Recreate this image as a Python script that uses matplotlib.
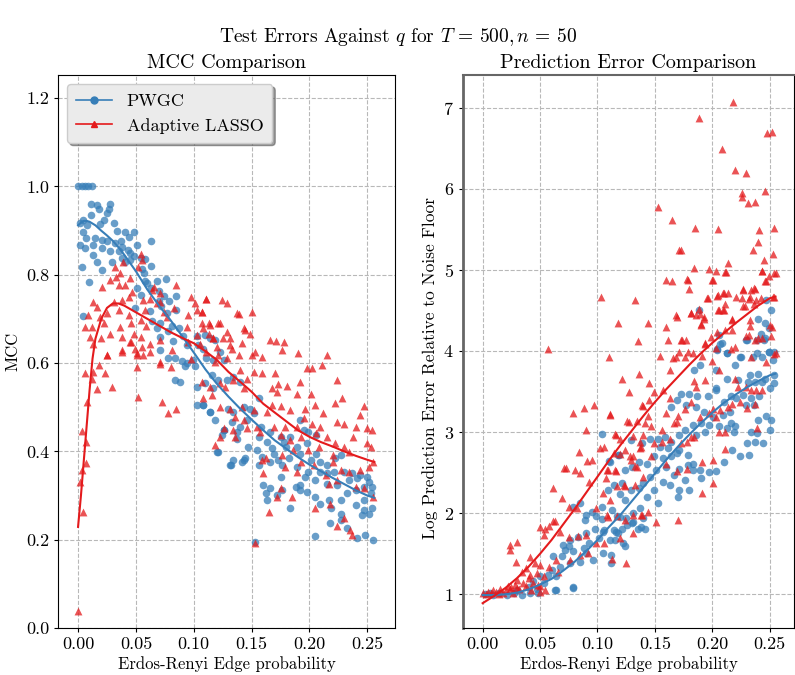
import numpy as np
import matplotlib
matplotlib.use('Agg')
import matplotlib.pyplot as plt
from matplotlib.lines import Line2D

plt.rcParams['font.family'] = 'serif'
plt.rcParams['font.serif'] = ['cmr10']
plt.rcParams['mathtext.fontset'] = 'cm'
plt.rcParams['axes.formatter.use_mathtext'] = True
plt.rcParams['axes.unicode_minus'] = False

BLUE = '#377eb8'
RED = '#e41a1c'

# ---- MCC panel: PWGC (q, mcc) ----
mcc_pwgc = [
    (0.000, 1.0), (0.003, 1.0), (0.006, 1.0), (0.009, 1.0), (0.012, 1.0),
    (0.011, 0.961), (0.016, 0.958), (0.018, 0.95), (0.028, 0.961), (0.027, 0.95), (0.025, 0.94),
    (0.011, 0.935), (0.0045, 0.925), (0.002, 0.917), (0.0075, 0.913), (0.022, 0.925), (0.019, 0.915),
    (0.031, 0.917), (0.0045, 0.898), (0.007, 0.883), (0.015, 0.883), (0.021, 0.879), (0.025, 0.876),
    (0.034, 0.90), (0.041, 0.897), (0.048, 0.897), (0.044, 0.886), (0.037, 0.877), (0.032, 0.871),
    (0.006, 0.861), (0.0015, 0.868), (0.013, 0.868), (0.021, 0.86), (0.028, 0.853), (0.038, 0.864),
    (0.035, 0.853), (0.043, 0.857), (0.045, 0.85), (0.048, 0.842), (0.051, 0.868), (0.063, 0.877),
    (0.013, 0.845), (0.016, 0.828), (0.029, 0.830), (0.038, 0.838), (0.041, 0.830), (0.045, 0.834),
    (0.054, 0.838), (0.058, 0.836), (0.063, 0.821), (0.003, 0.817), (0.021, 0.81), (0.055, 0.812),
    (0.057, 0.803), (0.058, 0.786), (0.0098, 0.784), (0.06, 0.782), (0.051, 0.77), (0.068, 0.786),
    (0.076, 0.791), (0.063, 0.77), (0.07, 0.763), (0.054, 0.755), (0.074, 0.751), (0.085, 0.753),
    (0.079, 0.74), (0.07, 0.74), (0.072, 0.729), (0.049, 0.725), (0.0046, 0.707), (0.062, 0.717),
    (0.077, 0.714), (0.085, 0.721), (0.064, 0.695), (0.071, 0.691), (0.081, 0.684), (0.068, 0.680),
    (0.078, 0.672), (0.087, 0.680), (0.091, 0.661), (0.103, 0.661), (0.071, 0.659), (0.082, 0.650),
    (0.094, 0.642), (0.104, 0.642), (0.108, 0.631), (0.071, 0.629), (0.078, 0.612), (0.084, 0.612),
    (0.090, 0.605), (0.099, 0.606), (0.092, 0.594), (0.101, 0.594), (0.084, 0.561), (0.088, 0.557),
    (0.094, 0.60), (0.103, 0.546), (0.103, 0.505), (0.108, 0.505), (0.114, 0.490), (0.120, 0.399),
    (0.126, 0.448), (0.131, 0.369), (0.142, 0.377), (0.144, 0.384),
    (0.110, 0.663), (0.114, 0.656), (0.118, 0.652), (0.123, 0.626), (0.111, 0.611), (0.117, 0.607),
    (0.126, 0.607), (0.116, 0.573), (0.121, 0.562), (0.129, 0.562), (0.134, 0.569), (0.140, 0.558),
    (0.110, 0.554), (0.117, 0.543), (0.108, 0.505), (0.114, 0.490), (0.118, 0.471), (0.130, 0.497),
    (0.134, 0.490), (0.143, 0.501), (0.149, 0.497), (0.156, 0.520), (0.152, 0.486), (0.146, 0.471),
    (0.133, 0.467), (0.140, 0.456), (0.137, 0.445), (0.126, 0.448), (0.124, 0.437), (0.137, 0.429),
    (0.158, 0.456), (0.166, 0.445), (0.175, 0.433), (0.156, 0.433), (0.163, 0.422), (0.147, 0.410),
    (0.155, 0.403), (0.168, 0.407), (0.121, 0.399), (0.159, 0.388), (0.169, 0.395), (0.178, 0.422),
    (0.183, 0.433), (0.192, 0.471), (0.195, 0.448), (0.199, 0.445), (0.206, 0.437), (0.180, 0.410),
    (0.189, 0.410), (0.198, 0.418), (0.173, 0.380), (0.182, 0.384), (0.192, 0.395), (0.201, 0.380),
    (0.206, 0.395), (0.209, 0.377), (0.215, 0.369), (0.222, 0.384), (0.227, 0.392), (0.134, 0.380),
    (0.143, 0.380), (0.132, 0.369), (0.156, 0.369), (0.166, 0.377), (0.176, 0.369), (0.189, 0.365),
    (0.199, 0.354), (0.209, 0.354), (0.215, 0.350), (0.221, 0.354), (0.230, 0.354), (0.237, 0.350),
    (0.244, 0.346), (0.250, 0.343), (0.251, 0.331), (0.241, 0.339), (0.234, 0.335), (0.224, 0.324),
    (0.215, 0.327), (0.205, 0.335), (0.196, 0.343), (0.192, 0.324), (0.188, 0.320), (0.175, 0.343),
    (0.160, 0.324), (0.166, 0.316), (0.162, 0.305), (0.163, 0.290), (0.172, 0.301), (0.176, 0.312),
    (0.183, 0.271), (0.192, 0.312), (0.198, 0.309), (0.205, 0.297), (0.209, 0.282), (0.217, 0.290),
    (0.219, 0.271), (0.227, 0.290), (0.232, 0.305), (0.240, 0.312), (0.247, 0.320), (0.254, 0.320),
    (0.253, 0.305), (0.247, 0.290), (0.240, 0.278), (0.247, 0.267), (0.254, 0.271), (0.251, 0.259),
    (0.245, 0.256), (0.227, 0.259), (0.227, 0.244), (0.218, 0.237), (0.232, 0.226), (0.241, 0.203),
    (0.248, 0.210), (0.255, 0.199), (0.205, 0.208), (0.153, 0.195),
]

# ---- MCC panel: Adaptive LASSO (q, mcc) ----
mcc_alasso = [
    (0.0, 0.039), (0.0032, 0.447), (0.0069, 0.422), (0.0032, 0.358), (0.002, 0.331), (0.007, 0.373),
    (0.0046, 0.263), (0.008, 0.512), (0.0118, 0.564), (0.016, 0.542), (0.013, 0.58), (0.018, 0.595),
    (0.0061, 0.578), (0.025, 0.618), (0.023, 0.578), (0.029, 0.546), (0.038, 0.629), (0.045, 0.648),
    (0.051, 0.618), (0.051, 0.592), (0.052, 0.524), (0.056, 0.618), (0.049, 0.633), (0.071, 0.603),
    (0.0725, 0.512), (0.080, 0.592), (0.078, 0.487), (0.085, 0.495),
    (0.0133, 0.739), (0.0090, 0.709), (0.006, 0.682), (0.0118, 0.682), (0.010, 0.659), (0.016, 0.728),
    (0.019, 0.705), (0.022, 0.690), (0.0133, 0.644), (0.020, 0.656), (0.028, 0.667), (0.025, 0.713),
    (0.031, 0.739), (0.038, 0.743), (0.044, 0.750), (0.047, 0.761), (0.041, 0.776), (0.035, 0.776),
    (0.028, 0.788), (0.021, 0.773), (0.033, 0.795), (0.036, 0.803), (0.045, 0.792), (0.054, 0.848),
    (0.055, 0.833), (0.052, 0.818), (0.039, 0.829), (0.032, 0.818), (0.035, 0.720), (0.044, 0.709),
    (0.046, 0.690), (0.036, 0.682), (0.038, 0.659), (0.048, 0.667), (0.025, 0.618), (0.038, 0.626),
    (0.054, 0.659), (0.055, 0.637), (0.046, 0.648), (0.051, 0.622), (0.059, 0.685), (0.056, 0.743),
    (0.062, 0.746), (0.066, 0.773), (0.071, 0.758), (0.071, 0.739), (0.068, 0.735), (0.064, 0.765),
    (0.058, 0.720), (0.074, 0.716), (0.077, 0.705), (0.083, 0.724), (0.085, 0.776), (0.098, 0.750),
    (0.101, 0.735), (0.111, 0.746), (0.124, 0.743), (0.129, 0.735), (0.137, 0.713), (0.103, 0.720),
    (0.107, 0.716), (0.095, 0.709), (0.094, 0.682), (0.107, 0.690), (0.114, 0.686), (0.113, 0.667),
    (0.121, 0.690), (0.103, 0.663), (0.095, 0.648), (0.105, 0.644), (0.117, 0.656), (0.125, 0.656),
    (0.120, 0.637), (0.131, 0.641), (0.111, 0.626), (0.121, 0.618), (0.098, 0.610), (0.071, 0.599),
    (0.081, 0.629), (0.062, 0.644), (0.062, 0.626), (0.071, 0.652), (0.054, 0.697),
    (0.150, 0.716), (0.166, 0.652), (0.171, 0.649), (0.190, 0.623), (0.215, 0.618), (0.144, 0.675),
    (0.139, 0.712),
    (0.111, 0.746), (0.107, 0.716), (0.113, 0.690), (0.123, 0.690), (0.108, 0.679), (0.129, 0.671),
    (0.143, 0.679), (0.149, 0.667), (0.117, 0.656), (0.131, 0.656), (0.142, 0.645), (0.133, 0.633),
    (0.153, 0.626), (0.178, 0.648), (0.176, 0.629), (0.159, 0.614), (0.150, 0.618), (0.139, 0.618),
    (0.129, 0.611), (0.118, 0.603), (0.140, 0.584), (0.152, 0.580), (0.159, 0.577), (0.170, 0.577),
    (0.198, 0.588), (0.202, 0.590), (0.211, 0.595), (0.224, 0.562), (0.192, 0.558), (0.181, 0.548),
    (0.173, 0.552), (0.168, 0.543), (0.146, 0.565), (0.134, 0.562), (0.123, 0.554), (0.114, 0.546),
    (0.107, 0.558), (0.127, 0.546), (0.143, 0.543), (0.108, 0.520), (0.116, 0.528), (0.201, 0.531),
    (0.189, 0.531), (0.172, 0.535), (0.228, 0.520), (0.222, 0.509), (0.247, 0.503), (0.205, 0.505),
    (0.196, 0.497), (0.183, 0.494), (0.175, 0.503), (0.168, 0.506), (0.163, 0.490), (0.152, 0.494),
    (0.142, 0.501), (0.131, 0.497), (0.123, 0.501), (0.244, 0.482), (0.212, 0.487), (0.224, 0.467),
    (0.230, 0.463), (0.240, 0.456), (0.250, 0.452), (0.254, 0.448), (0.209, 0.456), (0.202, 0.463),
    (0.195, 0.475), (0.189, 0.456), (0.179, 0.456), (0.169, 0.456), (0.155, 0.456), (0.143, 0.471),
    (0.136, 0.478), (0.146, 0.452), (0.134, 0.448), (0.126, 0.452), (0.123, 0.433), (0.118, 0.414),
    (0.136, 0.433), (0.157, 0.444), (0.175, 0.437), (0.183, 0.426), (0.193, 0.433), (0.206, 0.441),
    (0.215, 0.433), (0.222, 0.418), (0.230, 0.411), (0.238, 0.433), (0.250, 0.418), (0.253, 0.411),
    (0.234, 0.399), (0.220, 0.392), (0.208, 0.411), (0.199, 0.403), (0.186, 0.403), (0.176, 0.392),
    (0.162, 0.384), (0.159, 0.380), (0.193, 0.377), (0.204, 0.369), (0.220, 0.377), (0.227, 0.358),
    (0.234, 0.354), (0.244, 0.358), (0.251, 0.365), (0.255, 0.377), (0.160, 0.350), (0.179, 0.365),
    (0.189, 0.354), (0.214, 0.346), (0.217, 0.327), (0.224, 0.335), (0.240, 0.320), (0.247, 0.316),
    (0.255, 0.297), (0.175, 0.316), (0.172, 0.297), (0.185, 0.297), (0.218, 0.282), (0.205, 0.271),
    (0.165, 0.263), (0.230, 0.250), (0.224, 0.231), (0.235, 0.222), (0.237, 0.210), (0.153, 0.193),
]

# fitted trend lines (MCC)
mcc_fit_q = [0.0, 0.0025, 0.005, 0.0075, 0.01, 0.0125, 0.015, 0.02, 0.025, 0.03, 0.035, 0.04,
             0.05, 0.06, 0.07, 0.08, 0.09, 0.10, 0.11, 0.12, 0.13, 0.14, 0.15, 0.16, 0.17,
             0.18, 0.19, 0.20, 0.21, 0.22, 0.23, 0.24, 0.25, 0.256]
mcc_fit_pwgc = [0.912, 0.918, 0.922, 0.922, 0.920, 0.916, 0.912, 0.900, 0.889, 0.877, 0.862, 0.845,
                0.808, 0.766, 0.730, 0.697, 0.661, 0.624, 0.586, 0.553, 0.524, 0.497, 0.472, 0.448,
                0.425, 0.406, 0.387, 0.370, 0.355, 0.340, 0.326, 0.312, 0.300, 0.295]
mcc_fit_alasso = [0.229, 0.30, 0.38, 0.46, 0.54, 0.61, 0.655, 0.70, 0.725, 0.735, 0.735, 0.730,
                  0.715, 0.700, 0.685, 0.670, 0.657, 0.645, 0.627, 0.607, 0.580, 0.558, 0.535,
                  0.508, 0.488, 0.468, 0.448, 0.433, 0.421, 0.411, 0.400, 0.390, 0.381, 0.376]

# ---- Prediction error panel: PWGC (q, log error) ----
err_pwgc = [
    (0.002, 1.00), (0.006, 1.01), (0.009, 0.99), (0.014, 1.01), (0.021, 0.99), (0.027, 1.01),
    (0.030, 1.05), (0.034, 0.99), (0.041, 1.01), (0.048, 1.01), (0.047, 1.07), (0.040, 1.09),
    (0.044, 1.16), (0.053, 1.14), (0.050, 1.22), (0.057, 1.24), (0.064, 1.22), (0.060, 1.30),
    (0.067, 1.34), (0.061, 1.47), (0.069, 1.47), (0.064, 1.05), (0.079, 1.09), (0.063, 1.05),
    (0.079, 1.08), (0.076, 1.38), (0.085, 1.40), (0.096, 1.42), (0.090, 1.51), (0.105, 1.51),
    (0.112, 1.49), (0.112, 1.39), (0.072, 1.55), (0.079, 1.53), (0.088, 1.57), (0.093, 1.63),
    (0.070, 1.61), (0.075, 1.59), (0.076, 1.67), (0.083, 1.71), (0.090, 1.75), (0.101, 1.69),
    (0.111, 1.67), (0.118, 1.75), (0.122, 1.63), (0.105, 1.77), (0.114, 1.79), (0.121, 1.81),
    (0.098, 1.81), (0.135, 1.81), (0.141, 1.81), (0.130, 1.88), (0.125, 1.94), (0.117, 1.97),
    (0.104, 1.93), (0.099, 1.96), (0.095, 2.02), (0.090, 1.98), (0.089, 1.92), (0.085, 2.12),
    (0.079, 2.08), (0.140, 1.94), (0.104, 2.98), (0.118, 2.72), (0.110, 2.64),
    (0.115, 1.67), (0.124, 1.60), (0.106, 1.79), (0.116, 1.77), (0.126, 1.85), (0.131, 1.89),
    (0.138, 1.83), (0.120, 1.95), (0.113, 2.04), (0.104, 2.08), (0.131, 2.00), (0.137, 2.06),
    (0.124, 2.16), (0.153, 2.12), (0.143, 2.20), (0.149, 2.28), (0.136, 2.31), (0.140, 2.37),
    (0.146, 2.45), (0.120, 2.24), (0.114, 2.35), (0.121, 2.37), (0.129, 2.28), (0.109, 2.28),
    (0.170, 2.20), (0.171, 2.28), (0.180, 2.29), (0.163, 2.35), (0.157, 2.39), (0.176, 2.41),
    (0.167, 2.47), (0.151, 2.53), (0.160, 2.57), (0.171, 2.55), (0.179, 2.59), (0.183, 2.61),
    (0.189, 2.53), (0.124, 2.53), (0.130, 2.57), (0.136, 2.63), (0.143, 2.61), (0.111, 2.63),
    (0.119, 2.72), (0.149, 2.70), (0.157, 2.68), (0.164, 2.70), (0.169, 2.74), (0.161, 2.80),
    (0.154, 2.82), (0.129, 2.90), (0.139, 2.87), (0.146, 2.92), (0.153, 2.92), (0.159, 2.94),
    (0.164, 2.88), (0.171, 2.78), (0.179, 2.72), (0.183, 2.53), (0.190, 2.43), (0.197, 2.51),
    (0.203, 2.52), (0.210, 2.63), (0.224, 2.70), (0.217, 2.78), (0.232, 2.72), (0.230, 2.86),
    (0.237, 2.88), (0.244, 2.86), (0.171, 2.96), (0.176, 3.02), (0.186, 2.96), (0.194, 3.00),
    (0.183, 3.09), (0.190, 3.11), (0.197, 3.09), (0.206, 3.07), (0.213, 3.05), (0.220, 3.07),
    (0.219, 3.00), (0.234, 3.00), (0.239, 2.99), (0.250, 3.02), (0.251, 3.15), (0.247, 3.20),
    (0.240, 3.15), (0.216, 3.11), (0.209, 3.21), (0.201, 3.19), (0.193, 3.25), (0.186, 3.31),
    (0.177, 3.33), (0.164, 3.31), (0.169, 3.40), (0.173, 3.47), (0.180, 3.47), (0.187, 3.44),
    (0.196, 3.44), (0.203, 3.54), (0.215, 3.25), (0.210, 3.37), (0.216, 3.44), (0.221, 3.42),
    (0.229, 3.33), (0.236, 3.33), (0.227, 3.46), (0.234, 3.42), (0.241, 3.44), (0.250, 3.54),
    (0.254, 3.60), (0.254, 3.70), (0.246, 3.66), (0.243, 3.62), (0.237, 3.62), (0.231, 3.62),
    (0.222, 3.64), (0.213, 3.66), (0.240, 3.72), (0.233, 3.70), (0.203, 3.77), (0.184, 3.76),
    (0.189, 3.83), (0.220, 3.83), (0.253, 3.89), (0.249, 3.99), (0.243, 3.93), (0.235, 3.92),
    (0.224, 3.93), (0.213, 3.98), (0.204, 4.01), (0.207, 4.09), (0.229, 4.13), (0.239, 4.14),
    (0.246, 4.16), (0.188, 4.51), (0.206, 4.20), (0.208, 4.10), (0.204, 4.02), (0.213, 3.98),
    (0.230, 4.13), (0.240, 4.39), (0.242, 4.21), (0.246, 4.35), (0.247, 4.63), (0.251, 4.51),
    (0.249, 4.28), (0.245, 4.13), (0.239, 3.98), (0.249, 3.99), (0.254, 3.99), (0.225, 3.93),
    (0.203, 3.52),
]

# ---- Prediction error panel: Adaptive LASSO (q, log error) ----
err_alasso = [
    (0.0006, 1.01), (0.003, 1.00), (0.005, 1.03), (0.007, 1.01), (0.009, 1.05), (0.012, 1.03),
    (0.014, 1.00), (0.015, 1.07), (0.018, 1.01), (0.020, 1.05), (0.022, 1.10), (0.024, 1.06),
    (0.025, 1.09), (0.026, 1.02), (0.028, 1.12), (0.030, 1.08), (0.032, 1.07), (0.035, 1.14),
    (0.038, 1.10), (0.040, 1.20), (0.042, 1.05), (0.044, 1.14), (0.048, 1.12), (0.050, 1.10),
    (0.050, 1.03), (0.054, 1.05), (0.030, 1.18), (0.034, 1.27), (0.041, 1.24), (0.047, 1.26),
    (0.053, 1.22), (0.066, 1.28), (0.038, 1.33), (0.058, 1.34), (0.050, 1.36), (0.046, 1.39),
    (0.029, 1.40), (0.041, 1.46), (0.024, 1.55), (0.024, 1.61), (0.030, 1.64), (0.064, 1.42),
    (0.076, 1.42), (0.085, 1.49), (0.092, 1.51), (0.099, 1.63), (0.106, 1.63), (0.053, 1.73),
    (0.050, 1.83), (0.058, 1.84), (0.063, 1.90), (0.067, 1.77), (0.075, 1.71), (0.083, 1.72),
    (0.090, 1.73), (0.054, 1.81), (0.075, 2.08), (0.082, 2.06), (0.099, 2.06), (0.108, 1.98),
    (0.117, 1.96), (0.124, 1.92), (0.131, 1.98), (0.138, 1.98), (0.144, 2.02), (0.105, 2.25),
    (0.111, 2.16), (0.061, 2.31), (0.069, 2.19), (0.093, 2.39), (0.117, 2.33), (0.123, 2.35),
    (0.071, 2.56), (0.073, 2.56), (0.080, 2.53), (0.085, 2.49), (0.084, 2.76), (0.091, 2.64),
    (0.095, 2.66), (0.102, 2.80), (0.108, 2.53), (0.115, 2.53), (0.124, 2.78), (0.128, 2.70),
    (0.133, 2.58), (0.138, 2.82), (0.140, 2.45), (0.090, 3.03), (0.115, 2.97), (0.120, 2.91),
    (0.131, 2.95), (0.127, 3.13), (0.134, 3.14), (0.141, 3.11), (0.079, 3.23), (0.088, 3.30),
    (0.097, 3.33), (0.111, 3.21), (0.139, 3.33), (0.125, 1.39), (0.113, 1.44), (0.061, 1.90),
    (0.057, 4.02), (0.103, 4.67), (0.133, 4.63), (0.118, 4.35), (0.135, 4.12), (0.144, 4.35),
    (0.153, 5.77), (0.165, 5.61), (0.160, 4.87), (0.165, 4.86), (0.168, 4.44), (0.171, 5.24),
    (0.173, 5.24), (0.178, 4.89), (0.180, 4.77), (0.181, 4.47), (0.184, 5.02), (0.185, 5.51),
    (0.188, 6.87), (0.186, 4.44), (0.188, 4.52), (0.190, 4.33), (0.193, 4.42), (0.195, 4.65),
    (0.197, 5.01), (0.201, 4.87), (0.203, 4.99), (0.205, 5.50), (0.205, 4.69), (0.206, 4.50),
    (0.208, 6.49), (0.209, 4.71), (0.210, 4.51), (0.212, 4.97), (0.214, 4.72), (0.214, 5.08),
    (0.218, 7.07), (0.220, 6.23), (0.217, 4.39), (0.221, 4.67), (0.226, 5.95), (0.226, 5.90),
    (0.227, 4.76), (0.228, 4.55), (0.229, 6.19), (0.231, 5.83), (0.233, 4.66), (0.233, 4.31),
    (0.235, 5.24), (0.236, 4.78), (0.237, 5.84), (0.238, 4.63), (0.240, 5.34), (0.241, 5.49),
    (0.243, 4.99), (0.245, 5.12), (0.246, 5.97), (0.247, 4.86), (0.248, 6.69), (0.249, 4.93),
    (0.252, 6.70), (0.253, 5.20), (0.254, 5.51), (0.255, 4.96), (0.254, 4.67), (0.252, 4.30),
    (0.255, 3.97), (0.232, 4.20), (0.240, 4.16), (0.211, 4.26), (0.194, 4.10), (0.199, 4.17),
    (0.154, 3.94), (0.166, 3.91), (0.174, 4.14), (0.177, 4.13), (0.183, 3.97),
    (0.110, 3.93), (0.121, 3.65), (0.136, 3.71), (0.127, 3.50), (0.145, 3.61), (0.149, 3.50),
    (0.140, 3.32), (0.145, 3.39), (0.157, 3.52), (0.163, 3.42), (0.160, 3.23), (0.170, 3.20),
    (0.167, 3.11), (0.176, 3.29), (0.181, 3.37), (0.189, 3.18), (0.111, 3.22), (0.126, 3.14),
    (0.144, 3.20), (0.147, 3.07), (0.156, 3.02), (0.116, 2.96), (0.137, 2.88), (0.140, 2.96),
    (0.149, 2.86), (0.156, 2.88), (0.163, 2.92), (0.173, 2.86), (0.178, 2.88), (0.184, 2.94),
    (0.137, 2.80), (0.131, 2.70), (0.129, 2.65), (0.120, 2.73), (0.114, 2.74), (0.106, 2.82),
    (0.134, 2.57), (0.147, 2.70), (0.160, 2.61), (0.169, 2.52), (0.178, 2.55), (0.109, 2.53),
    (0.116, 2.52), (0.124, 2.33), (0.133, 2.35), (0.107, 2.43), (0.191, 2.25), (0.201, 2.37),
    (0.170, 1.91), (0.151, 1.89), (0.139, 1.98), (0.131, 1.75), (0.109, 1.95), (0.120, 1.70),
    (0.211, 4.97), (0.179, 4.88), (0.200, 4.87), (0.243, 4.98), (0.246, 4.86), (0.254, 4.96),
    (0.196, 4.65), (0.204, 4.68), (0.210, 4.71), (0.227, 4.75), (0.234, 4.75), (0.237, 4.77),
    (0.226, 4.65), (0.232, 4.64), (0.242, 4.65), (0.253, 4.67), (0.211, 4.58), (0.227, 4.56),
    (0.236, 4.58), (0.205, 4.50), (0.209, 4.51), (0.181, 4.47), (0.189, 4.46), (0.169, 4.42),
    (0.193, 4.40), (0.233, 4.38), (0.217, 4.38), (0.190, 4.32), (0.217, 4.26), (0.204, 4.23),
    (0.250, 4.32), (0.229, 4.18), (0.243, 4.16), (0.251, 4.18), (0.160, 4.29), (0.173, 4.14),
    (0.161, 4.13), (0.194, 4.09), (0.203, 4.04), (0.216, 4.02), (0.220, 4.05), (0.237, 4.14),
    (0.171, 3.99), (0.179, 3.99), (0.168, 3.92), (0.176, 3.92), (0.163, 3.77), (0.191, 3.94),
    (0.200, 3.88), (0.234, 3.92), (0.254, 3.96), (0.206, 3.76), (0.184, 3.63), (0.186, 3.56),
    (0.194, 3.64), (0.247, 3.86), (0.220, 3.66), (0.222, 3.55), (0.229, 3.56), (0.234, 3.52),
    (0.238, 3.52), (0.243, 3.52), (0.230, 3.30), (0.237, 3.35), (0.224, 3.37), (0.217, 3.35),
    (0.214, 3.31), (0.207, 3.27), (0.201, 3.29), (0.197, 3.23), (0.203, 3.19), (0.169, 3.13),
    (0.181, 2.94), (0.206, 3.00), (0.211, 3.00), (0.239, 3.05), (0.211, 2.79), (0.201, 2.65),
    (0.191, 2.63),
]

# fitted trend lines (prediction error)
err_fit_q = [0.0, 0.01, 0.02, 0.03, 0.04, 0.05, 0.06, 0.07, 0.08, 0.09, 0.10, 0.11, 0.12, 0.13,
             0.14, 0.15, 0.16, 0.17, 0.18, 0.19, 0.20, 0.21, 0.22, 0.23, 0.24, 0.25, 0.255]
err_fit_pwgc = [0.99, 0.99, 1.00, 1.02, 1.06, 1.12, 1.19, 1.29, 1.40, 1.53, 1.67, 1.83, 1.98, 2.15,
                2.32, 2.49, 2.66, 2.82, 2.97, 3.11, 3.24, 3.36, 3.46, 3.55, 3.63, 3.70, 3.72]
err_fit_alasso = [0.89, 0.98, 1.08, 1.20, 1.34, 1.50, 1.67, 1.86, 2.05, 2.25, 2.45, 2.65, 2.84, 3.02,
                  3.20, 3.37, 3.53, 3.68, 3.83, 3.97, 4.10, 4.22, 4.34, 4.45, 4.56, 4.65, 4.67]


def style_axis(ax):
    ax.grid(True, color='#b8b8b8', linestyle='--', linewidth=0.8)
    ax.set_axisbelow(True)
    ax.tick_params(labelsize=13, length=3, width=0.8, direction='out')
    ax.set_xticks([0.0, 0.05, 0.10, 0.15, 0.20, 0.25])
    ax.set_xticklabels(['0.00', '0.05', '0.10', '0.15', '0.20', '0.25'])
    ax.set_xlabel('Erdos-Renyi Edge probability', fontsize=12, labelpad=3)


fig = plt.figure(figsize=(7.95, 6.75), dpi=100)
ax1 = fig.add_axes([0.073, 0.0696, 0.424, 0.819])
ax2 = fig.add_axes([0.5824, 0.0696, 0.4162, 0.819])

# left: MCC
p = np.array(mcc_pwgc)
a = np.array(mcc_alasso)
ax1.scatter(p[:, 0], p[:, 1], s=30, marker='o', color=BLUE, alpha=0.75, linewidths=0)
ax1.scatter(a[:, 0], a[:, 1], s=32, marker='^', color=RED, alpha=0.75, linewidths=0)
ax1.plot(mcc_fit_q, mcc_fit_pwgc, color=BLUE, linewidth=1.5)
ax1.plot(mcc_fit_q, mcc_fit_alasso, color=RED, linewidth=1.5)
style_axis(ax1)
ax1.set_xlim(-0.0173, 0.274)
ax1.set_ylim(0.0, 1.252)
ax1.set_yticks([0.0, 0.2, 0.4, 0.6, 0.8, 1.0, 1.2])
ax1.set_yticklabels(['0.0', '0.2', '0.4', '0.6', '0.8', '1.0', '1.2'])
ax1.set_ylabel('MCC', fontsize=12)
ax1.set_title('MCC Comparison', fontsize=14.5, pad=5)

handles = [Line2D([0], [0], color=BLUE, marker='o', markersize=5, linewidth=1.2),
           Line2D([0], [0], color=RED, marker='^', markersize=5, linewidth=1.2)]
leg = ax1.legend(handles, ['PWGC', 'Adaptive LASSO'], loc='upper left', fontsize=13,
                 fancybox=True, shadow=True, framealpha=1.0, borderpad=0.5,
                 bbox_to_anchor=(0.0, 1.0))
leg.get_frame().set_facecolor('#ebebeb')
leg.get_frame().set_edgecolor('#cccccc')

# right: prediction error
p = np.array(err_pwgc)
a = np.array(err_alasso)
ax2.scatter(p[:, 0], p[:, 1], s=30, marker='o', color=BLUE, alpha=0.75, linewidths=0)
ax2.scatter(a[:, 0], a[:, 1], s=32, marker='^', color=RED, alpha=0.75, linewidths=0)
ax2.plot(err_fit_q, err_fit_pwgc, color=BLUE, linewidth=1.5)
ax2.plot(err_fit_q, err_fit_alasso, color=RED, linewidth=1.5)
style_axis(ax2)
ax2.set_xlim(-0.0171, 0.271)
ax2.set_ylim(0.584, 7.40)
ax2.set_yticks([1, 2, 3, 4, 5, 6, 7])
ax2.set_ylabel('Log Prediction Error Relative to Noise Floor', fontsize=12.5)
ax2.yaxis.set_label_coords(-0.075, 0.47)
ax2.set_title('Prediction Error Comparison', fontsize=14.5, pad=5)
ax2.spines['left'].set_color('#666666')
ax2.spines['left'].set_linewidth(2.0)
ax2.spines['top'].set_color('#666666')
ax2.spines['top'].set_linewidth(1.5)

fig.suptitle(r'Test Errors Against $q$ for $T\,=\,500, n\,=\,50$', fontsize=14, y=0.962)

fig.savefig('out.png', dpi=100)
